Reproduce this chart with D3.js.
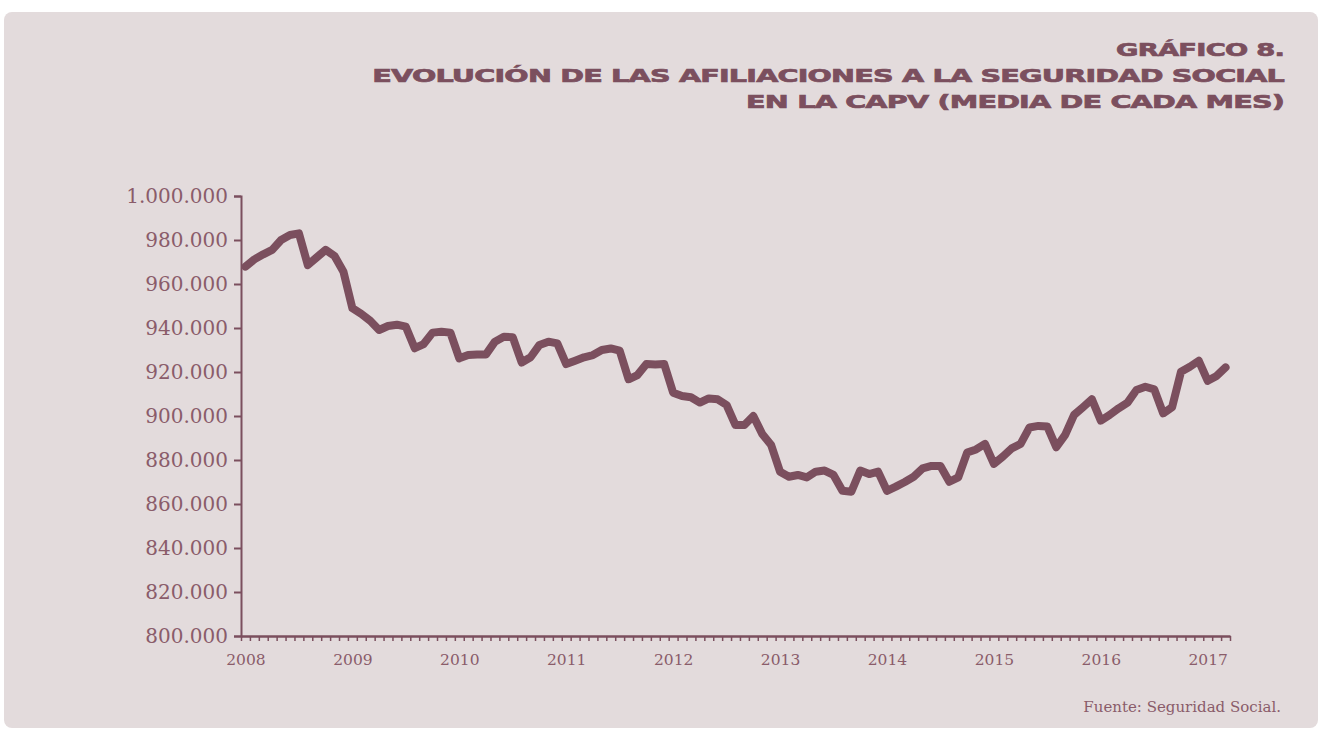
<!DOCTYPE html>
<html>
<head>
<meta charset="utf-8">
<script src="https://cdn.jsdelivr.net/npm/d3@7"></script>
<style>
  body { margin: 0; background: #ffffff; }
  svg { display: block; }
</style>
</head>
<body>
<svg></svg>
<script>
// afiliaciones medias mensuales, enero 2008 - marzo 2017
var yearLabels = ["2008", "2009", "2010", "2011", "2012", "2013", "2014", "2015", "2016", "2017"];
var affiliations = [
  967900, 971200, 973500, 975500, 980000, 982300, 983000, 968600, 972100, 975500, 972700, 965600,
  949000, 946400, 943300, 939100, 940900, 941500, 940600, 930800, 932700, 937900, 938300, 937900,
  926200, 927700, 928000, 928000, 933800, 936000, 935800, 924300, 926700, 932300, 933800, 933000,
  923600, 925100, 926700, 927700, 930000, 930700, 929700, 916700, 918600, 923600, 923400, 923600,
  910600, 909100, 908500, 906100, 908000, 907600, 905000, 895900, 895900, 900000, 891800, 886800,
  874700, 872400, 873200, 872100, 874700, 875200, 873200, 866000, 865600, 875200, 873600, 874700,
  866000, 867900, 870000, 872400, 876200, 877300, 877300, 870100, 872100, 883400, 884800, 887300,
  878200, 881500, 885300, 887300, 894800, 895500, 895200, 885800, 891400, 900500, 904000, 907600,
  897900, 900500, 903500, 906100, 911800, 913300, 912100, 901200, 904000, 920100, 922400, 925100,
  916000, 918200, 922100
];
var yTicks = [800000, 820000, 840000, 860000, 880000, 900000, 920000, 940000, 960000, 980000, 1000000];
var titleLines = ["GRÁFICO 8.", "EVOLUCIÓN DE LAS AFILIACIONES A LA SEGURIDAD SOCIAL", "EN LA CAPV (MEDIA DE CADA MES)"];
var source = "Fuente: Seguridad Social.";

var width = 1322;
var height = 736;
var ink = "#7b4f5e";
var labelInk = "#8a5c6a";

var locale = d3.formatLocale({decimal: ",", thousands: ".", grouping: [3], currency: ["", " €"]});
var fmt = locale.format(",");

var svg = d3.select('svg')
    .attr('width', width)
    .attr('height', height);

svg.append('rect')
    .attr('x', 4)
    .attr('y', 12)
    .attr('width', width - 8)
    .attr('height', height - 20)
    .attr('rx', 8)
    .attr('fill', '#e3dbdc');

// titulo: letra ancha, estirada a lo ancho de cada linea
var titleWidths = [168, 912, 538];
svg.selectAll('.title')
  .data(titleLines)
  .enter()
  .append('text')
    .classed('title', true)
    .attr('text-anchor', 'end')
    .attr('font-family', 'DejaVu Sans')
    .attr('font-weight', 'bold')
    .attr('font-size', 18)
    .attr('letter-spacing', -0.5)
    .attr('fill', ink)
    .attr('stroke', ink)
    .attr('stroke-width', 0.7)
    .text(d => d)
    .attr('transform', function(d, i) {
      var w = this.getComputedTextLength();
      return 'translate(1284,' + (56 + i * 26) + ') scale(' + (titleWidths[i] / w) + ',1)';
    });

var n = affiliations.length;
var x = d3.scaleLinear()
    .domain([0, n])
    .range([241, 1230]);

var y = d3.scaleLinear()
    .domain([800000, 1000000])
    .range([636, 196]);

// eje y
var yAxis = svg.append('g')
    .attr('transform', 'translate(241,0)')
    .call(d3.axisLeft(y).tickValues(yTicks).tickFormat(fmt).tickSize(7).tickPadding(6));
yAxis.select('.domain').attr('stroke', ink).attr('stroke-width', 2);
yAxis.selectAll('.tick line').attr('stroke', ink).attr('stroke-width', 2);
yAxis.selectAll('.tick text')
    .attr('font-family', 'DejaVu Serif')
    .attr('font-size', 20)
    .attr('fill', labelInk);

// eje x: marcas mensuales
var xMinor = svg.append('g')
    .attr('transform', 'translate(0,636)')
    .call(d3.axisBottom(x).tickValues(d3.range(0, n + 1)).tickFormat('').tickSize(5).tickSizeOuter(0));
xMinor.select('.domain').attr('stroke', ink).attr('stroke-width', 2.5);
xMinor.selectAll('.tick line').attr('stroke', ink).attr('stroke-width', 1.5);

// etiquetas de año (centradas en enero)
var xYears = svg.append('g')
    .attr('transform', 'translate(0,636)')
    .call(d3.axisBottom(x)
      .tickValues(yearLabels.map((d, i) => i * 12 + 0.5))
      .tickFormat((d, i) => yearLabels[i])
      .tickSize(0)
      .tickPadding(18));
xYears.select('.domain').remove();
xYears.selectAll('.tick text')
    .attr('font-family', 'DejaVu Serif')
    .attr('font-size', 15.5)
    .attr('fill', labelInk);

// serie
var line = d3.line()
    .x((d, i) => x(i + 0.5))
    .y(d => y(d));

svg.append('path')
    .datum(affiliations)
    .attr('fill', 'none')
    .attr('stroke', ink)
    .attr('stroke-width', 8)
    .attr('stroke-linejoin', 'round')
    .attr('stroke-linecap', 'round')
    .attr('d', line);

svg.append('text')
    .attr('x', 1281)
    .attr('y', 712)
    .attr('text-anchor', 'end')
    .attr('font-family', 'DejaVu Serif')
    .attr('font-size', 15)
    .attr('fill', labelInk)
    .text(source);
</script>
</body>
</html>
